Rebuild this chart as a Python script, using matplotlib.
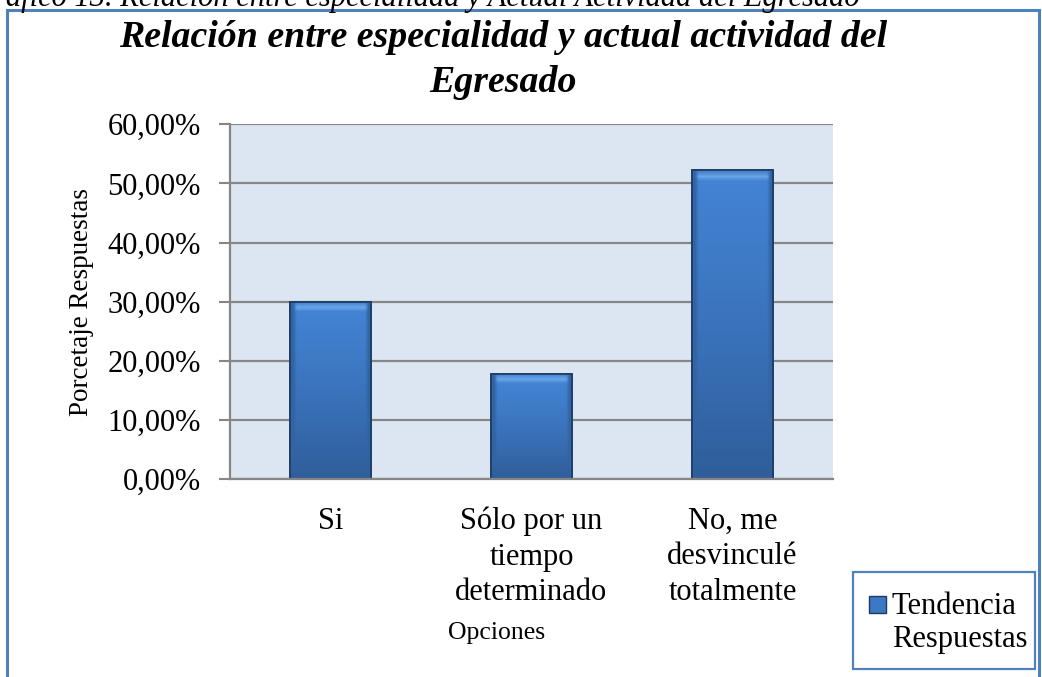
import matplotlib
matplotlib.use("Agg")
import matplotlib.pyplot as plt
import numpy as np
from matplotlib.patches import Rectangle
from matplotlib.colors import LinearSegmentedColormap
from matplotlib.ticker import FuncFormatter

categories = ["Si", "Sólo por un\ntiempo\ndeterminado", "No, me\ndesvinculé\ntotalmente"]
values = [30.0, 17.8, 52.2]
yticks = [0, 10, 20, 30, 40, 50, 60]
series_name = "Tendencia\nRespuestas"
title = "Relación entre especialidad y actual actividad del\nEgresado"
caption = "Gráfico 13. Relación entre especialidad y Actual Actividad del Egresado"

plt.rcParams["font.family"] = ["Liberation Serif", "DejaVu Serif"]

W, H = 1042, 677
fig = plt.figure(figsize=(W / 100, H / 100), dpi=100)
fig.patch.set_facecolor("white")

# outer chart border
fig.patches.append(Rectangle((7 / W, -0.05), (1039 - 7) / W, 1.05 - 9.5 / H,
                             transform=fig.transFigure, fill=False,
                             edgecolor="#4f81bd", lw=2.2))

# cut-off caption at top (as in the reference)
fig.text(860 / W, 1 - 6 / H, caption, ha="right", va="baseline",
         fontsize=22, style="italic")

ax = fig.add_axes([230 / W, 1 - 479 / H, (833 - 230) / W, (479 - 124.3) / H])
ax.set_facecolor("#dce6f2")
x = list(range(len(categories)))
bars = ax.bar(x, values, width=0.405, color="#3c78c4", edgecolor="#1d3b60",
              linewidth=1.2, zorder=3)

# gradient / bevel look for bars
cmap = LinearSegmentedColormap.from_list(
    "bev", [(0.0, "#2f5e9a"), (0.5, "#3b74bd"), (0.93, "#4383d3"), (0.96, "#6aa6ea"), (1.0, "#3d7bc8")])
for b in bars:
    x0, y0 = b.get_x(), b.get_y()
    w, h = b.get_width(), b.get_height()
    grad = np.linspace(0, 1, 256).reshape(-1, 1)
    # fix the top bevel to a fixed pixel height regardless of bar height
    ypix = h / 60 * 355
    frac_top = max(0.0, 1 - 10 / ypix)
    g = np.where(grad < frac_top, grad / frac_top * 0.93, 0.93 + (grad - frac_top) / (1 - frac_top) * 0.07)
    g = np.tile(g, (1, 16))
    # darker side edges
    side = np.ones(16)
    side[:1] = 0.0
    side[-1:] = 0.0
    g = np.where(side[None, :] == 0, np.minimum(g, 0.15), g)
    im = ax.imshow(g, cmap=cmap, vmin=0, vmax=1, origin="lower",
                   extent=(x0, x0 + w, y0, y0 + h), aspect="auto", zorder=3.5)
    im.set_clip_path(b)
    ax.add_patch(Rectangle((x0, y0), w, h, fill=False, edgecolor="#1d3b60",
                           lw=1.2, zorder=4))

ax.set_xlim(-0.5, len(categories) - 0.5)
ax.set_ylim(0, 60)
ax.set_yticks(yticks)
ax.yaxis.set_major_formatter(FuncFormatter(lambda v, p: f"{v:.2f}".replace(".", ",") + "%"))
ax.set_xticks(x)
ax.set_xticklabels(categories, fontsize=22, linespacing=1.3)
ax.tick_params(axis="y", labelsize=22, length=8, width=1.5, color="#868686", pad=13)
ax.tick_params(axis="x", length=0, pad=20)
ax.grid(axis="y", color="#868686", lw=1.6, zorder=1)
for s in ["top", "right"]:
    ax.spines[s].set_visible(False)
for s in ["left", "bottom"]:
    ax.spines[s].set_color("#868686")
    ax.spines[s].set_linewidth(1.6)
    ax.spines[s].set_zorder(5)

fig.text(81 / W, 1 - 302 / H, "Porcetaje Respuestas", rotation=90,
         ha="center", va="center", fontsize=19.5)
fig.text(497 / W, 1 - 633 / H, "Opciones", ha="center", va="center", fontsize=18.5)

fig.text(503 / W, 1 - 60 / H, title, ha="center", va="center", fontsize=27.3,
         weight="bold", style="italic", linespacing=1.35)

# legend (drawn as a framed key)
fig.patches.append(Rectangle((853 / W, 1 - 669 / H), (1035 - 853) / W, (669 - 572) / H,
                             transform=fig.transFigure, facecolor="white",
                             edgecolor="#4f81bd", lw=1.6))
fig.patches.append(Rectangle((869 / W, 1 - 613 / H), 17 / W, 17 / H,
                             transform=fig.transFigure, facecolor="#3c78c4",
                             edgecolor="#1d3b60", lw=1.0))
fig.text(892 / W, 1 - 623 / H, series_name, ha="left", va="center", fontsize=22,
         linespacing=1.22)

fig.savefig("out.png", dpi=100)
